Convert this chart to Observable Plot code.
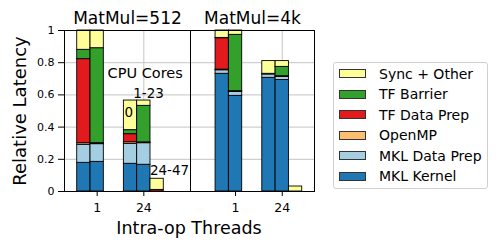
<!DOCTYPE html>
<html>
<head>
<meta charset="utf-8">
<script src="https://cdn.jsdelivr.net/npm/d3@7"></script>
<script src="https://cdn.jsdelivr.net/npm/@observablehq/plot@0.6"></script>
<style>
  html, body { margin: 0; padding: 0; background: #fff; }
  #chart { position: relative; width: 499px; height: 250px; overflow: hidden; font-family: "DejaVu Sans", sans-serif; color: #000; }
  #chart svg { position: absolute; top: 0; }
  #xlabel { position: absolute; left: 0; width: 378px; top: 218px; height: 21px; line-height: 21px; text-align: center; font-size: 17.5px; }
  #legend { position: absolute; left: 332.5px; top: 62px; width: 155px; height: 127px; box-sizing: border-box; border: 1px solid #d0d0d0; border-radius: 3px; background: #fff; }
  .lrow { position: absolute; left: 0; height: 20px; display: flex; align-items: center; font-size: 14px; white-space: nowrap; }
  .sw { width: 27px; height: 9px; box-sizing: border-box; border: 1px solid #333; margin-left: 5.5px; margin-right: 13px; }
</style>
</head>
<body>
<div id="chart"><div id="xlabel"></div><div id="legend"></div></div>
<script>
// ---- data ----
const panels = ["MatMul=512", "MatMul=4k"];
const threads = ["1", "24"];
const cores = ["0", "1-23", "24-47"];
const components = ["MKL Kernel", "MKL Data Prep", "OpenMP", "TF Data Prep", "TF Barrier", "Sync + Other"];
const colors = ["#1f78b4", "#a6cee3", "#fdbf6f", "#e31a1c", "#33a02c", "#ffff99"];
const legendOrder = ["Sync + Other", "TF Barrier", "TF Data Prep", "OpenMP", "MKL Data Prep", "MKL Kernel"];
// bar order: MatMul=512 [t1: 0, 1-23, 24-47 | t24: 0, 1-23, 24-47], MatMul=4k [same]
const mklKernel   = [0.178, 0.184, 0,   0.172, 0.166, 0,      0.731, 0.594, 0,   0.706, 0.693, 0];
const mklDataPrep = [0.112, 0.110, 0,   0.124, 0.134, 0,      0.022, 0.024, 0,   0.021, 0.018, 0];
const openMP      = [0.010, 0.003, 0,   0.010, 0.003, 0,      0.004, 0.003, 0,   0.002, 0.003, 0];
const tfDataPrep  = [0.522, 0.003, 0,   0.050, 0.002, 0.010,  0.195, 0.002, 0,   0,     0.002, 0];
const tfBarrier   = [0.058, 0.590, 0,   0.025, 0.227, 0,      0.002, 0.350, 0,   0.002, 0.058, 0];
const syncOther   = [0.120, 0.110, 0,   0.184, 0.033, 0.069,  0.046, 0.027, 0,   0.079, 0.036, 0.031];
const xLabel = "Intra-op Threads";
const yLabel = "Relative Latency";
const annotationText = ["CPU Cores", "1-23", "0", "24-47"];
const annotationX = [1.03, 1.10, 0.68, 1.55];
const annotationY = [0.733, 0.609, 0.49, 0.13];
const yTicks = [0, 0.2, 0.4, 0.6, 0.8, 1];

// ---- build stacked rows ----
const seriesVals = [mklKernel, mklDataPrep, openMP, tfDataPrep, tfBarrier, syncOther];
const rows = [];
panels.forEach((panel, p) => threads.forEach((thread, t) => cores.forEach((core, c) => {
  const k = p * 6 + t * 3 + c;
  let base = 0;
  components.forEach((name, s) => {
    const v = seriesVals[s][k];
    if (v > 0) rows.push({panel, t, c, component: name, y1: base, y2: base + v});
    base += v;
  });
})));
const BW = 0.285;
const bx1 = d => d.t + (d.c - 1) * BW - BW / 2;
const bx2 = d => d.t + (d.c - 1) * BW + BW / 2;

const font = "DejaVu Sans";
const gridColor = "#c4c4c4";

function panelPlot(p, opts) {
  const marks = [
    Plot.gridY(yTicks.slice(1, -1), {stroke: gridColor, strokeOpacity: 1, strokeWidth: 1}),
    Plot.gridX([0, 1], {stroke: gridColor, strokeOpacity: 1, strokeWidth: 1}),
    Plot.rect(rows.filter(d => d.panel === panels[p]), {x1: bx1, x2: bx2, y1: "y1", y2: "y2", fill: "component", stroke: "black", strokeWidth: 0.9}),
    Plot.frame({stroke: "black", strokeWidth: 1}),
    Plot.axisX([0, 1], {tickFormat: i => threads[i], fontSize: 12.5, tickSize: 5, tickPadding: 7, label: null}),
    Plot.text([panels[p]], {frameAnchor: "top", dy: -12, lineAnchor: "middle", fontSize: 17, text: d => d})
  ];
  if (p === 0) {
    marks.push(Plot.axisY(yTicks, {tickFormat: d => String(+d.toFixed(1)), fontSize: 11, tickSize: 6, tickPadding: 4, label: null}));
    marks.push(Plot.text([yLabel], {frameAnchor: "left", dx: -44, rotate: -90, textAnchor: "middle", lineAnchor: "middle", fontSize: 18, text: d => d}));
    marks.push(Plot.text(annotationText, {x: (d, i) => annotationX[i], y: (d, i) => annotationY[i], text: d => d, fontSize: (d, i) => (i === 0 ? 14.5 : 13.5), textAnchor: "middle", lineAnchor: "middle"}));
  }
  return Plot.plot({
    ...opts,
    height: 250,
    marginTop: 30,
    marginBottom: 59,
    style: {background: "transparent", fontFamily: font, color: "black", overflow: "visible"},
    y: {domain: [0, 1], axis: p === 0 ? undefined : null},
    color: {domain: components, range: colors},
    marks
  });
}

const chart = document.getElementById("chart");
const p1 = panelPlot(0, {width: 192, marginLeft: 64, marginRight: 2, x: {domain: [-0.70, 2.0]}});
p1.style.left = "0px";
const p2 = panelPlot(1, {width: 130, marginLeft: 2, marginRight: 4, x: {domain: [-0.964, 1.69]}});
p2.style.left = "188px";
chart.insertBefore(p1, chart.firstChild);
chart.insertBefore(p2, chart.firstChild.nextSibling);

document.getElementById("xlabel").textContent = xLabel;

const colorScale = p1.scale("color");
const legend = document.getElementById("legend");
legendOrder.forEach((name, i) => {
  const row = document.createElement("div");
  row.className = "lrow";
  row.style.top = (0.7 + i * 20.5) + "px";
  const sw = document.createElement("div");
  sw.className = "sw";
  sw.style.background = colorScale.apply(name);
  const lab = document.createElement("span");
  lab.textContent = name;
  row.appendChild(sw);
  row.appendChild(lab);
  legend.appendChild(row);
});
</script>
</body>
</html>
